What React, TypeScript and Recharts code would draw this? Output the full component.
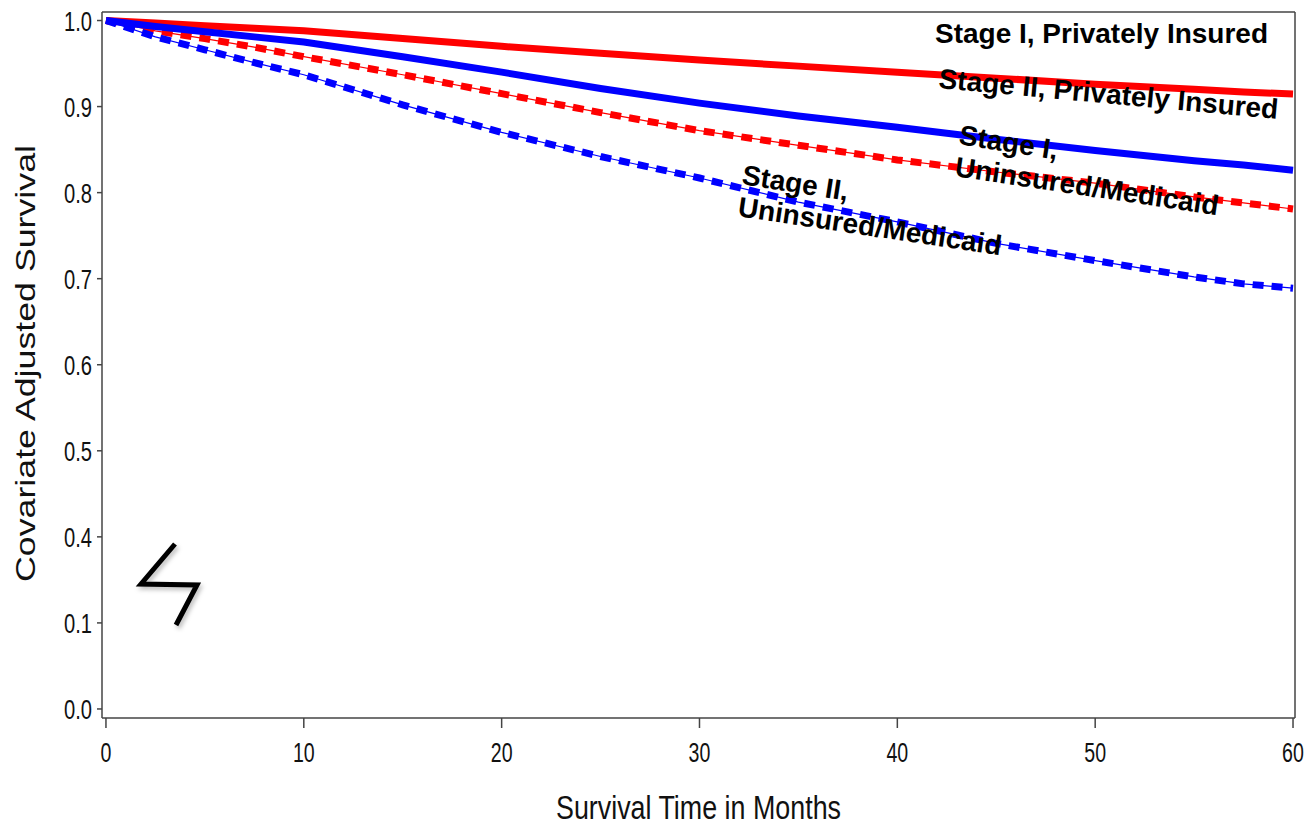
import React from "react";
import { LineChart, Line, XAxis, YAxis, ReferenceLine } from "recharts";

const months = [0, 2.5, 5, 7.5, 10, 15, 20, 25, 30, 35, 40, 45, 50, 55, 57.5, 60];
const stage1Private = [1, 0.997, 0.994, 0.991, 0.988, 0.979, 0.97, 0.962, 0.954, 0.947, 0.94, 0.933, 0.926, 0.92, 0.917, 0.9145];
const stage2Private = [1, 0.993, 0.987, 0.981, 0.975, 0.958, 0.94, 0.921, 0.904, 0.889, 0.876, 0.862, 0.849, 0.837, 0.832, 0.826];
const stage1Uninsured = [1, 0.988, 0.979, 0.969, 0.958, 0.937, 0.915, 0.893, 0.872, 0.855, 0.838, 0.824, 0.811, 0.795, 0.788, 0.781];
const stage2Uninsured = [1, 0.981, 0.966, 0.951, 0.937, 0.902, 0.87, 0.842, 0.817, 0.789, 0.766, 0.741, 0.721, 0.702, 0.694, 0.689];

// The y axis is broken: 0.0 and 0.1 sit directly below 0.4, one step apart each.
const yTicks = [0.2, 0.3, 0.4, 0.5, 0.6, 0.7, 0.8, 0.9, 1.0];
const yTickLabels = ["0.0", "0.1", "0.4", "0.5", "0.6", "0.7", "0.8", "0.9", "1.0"];
const xTicks = [0, 10, 20, 30, 40, 50, 60];

const rows = months.map((month, i) => ({
  month,
  s1p: stage1Private[i],
  s2p: stage2Private[i],
  s1u: stage1Uninsured[i],
  s2u: stage2Uninsured[i],
}));

const axisColor = "#444";
const sans = "'Liberation Sans', Arial, sans-serif";
const noteFont = { fontFamily: sans, fontSize: 28, fontWeight: 700, fill: "#000" };

const Note = ({ x, y, angle, children }: { x: number; y: number; angle: number; children: string }) => (
  <text x={x} y={y} transform={`rotate(${angle} ${x} ${y})`} {...noteFont}>
    {children}
  </text>
);

const XTick = ({ x, y, payload }: any) => (
  <text
    transform={`translate(${x} ${y + 26}) scale(0.7 1)`}
    textAnchor="middle"
    fontFamily={sans}
    fontSize={28}
    fill="#111"
  >
    {String(payload.value)}
  </text>
);

const YTick = ({ x, y, payload }: any) => (
  <text
    transform={`translate(${x - 2} ${y + 10}) scale(0.72 1)`}
    textAnchor="end"
    fontFamily={sans}
    fontSize={28}
    fill="#111"
  >
    {yTickLabels[yTicks.findIndex((t) => Math.abs(t - payload.value) < 1e-6)]}
  </text>
);

export default function App() {
  return (
    <div style={{ position: "absolute", left: 0, top: 0, width: 1305, height: 826, overflow: "hidden", background: "#fff" }}>
      <LineChart width={1305} height={826} data={rows} margin={{ top: 12, right: 10, bottom: 0, left: 0 }}>
        <XAxis
          dataKey="month"
          type="number"
          domain={[-0.2, 60.1]}
          ticks={xTicks}
          allowDataOverflow
          height={108}
          interval={0}
          tickLine={{ stroke: axisColor, strokeWidth: 1.5 }}
          axisLine={{ stroke: axisColor, strokeWidth: 1.5 }}
          tickSize={10}
          tickMargin={8}
          tick={<XTick />}
        />
        <YAxis
          type="number"
          domain={[0.1895, 1.0099]}
          ticks={yTicks}
          allowDataOverflow
          width={102}
          interval={0}
          tickLine={{ stroke: axisColor, strokeWidth: 1.5 }}
          axisLine={{ stroke: axisColor, strokeWidth: 1.5 }}
          tickSize={5}
          tickMargin={3}
          tick={<YTick />}
        />
        <ReferenceLine y={1.0099} stroke={axisColor} strokeWidth={1.5} />
        <ReferenceLine x={60.1} stroke={axisColor} strokeWidth={1.5} />

        <Line type="linear" dataKey="s1p" stroke="#ff0000" strokeWidth={7} dot={false} isAnimationActive={false} />
        <Line type="linear" dataKey="s1u" stroke="#ff0000" strokeWidth={1.2} dot={false} isAnimationActive={false} />
        <Line type="linear" dataKey="s1u" stroke="#ff0000" strokeWidth={7} strokeDasharray="11 8" dot={false} isAnimationActive={false} />
        <Line type="linear" dataKey="s2p" stroke="#0000ff" strokeWidth={7} dot={false} isAnimationActive={false} />
        <Line type="linear" dataKey="s2u" stroke="#0000ff" strokeWidth={1.2} dot={false} isAnimationActive={false} />
        <Line type="linear" dataKey="s2u" stroke="#0000ff" strokeWidth={7} strokeDasharray="11 8" dot={false} isAnimationActive={false} />
      </LineChart>

      <svg width={1305} height={826} style={{ position: "absolute", left: 0, top: 0, pointerEvents: "none" }}>
        <Note x={935} y={43} angle={0}>Stage I, Privately Insured</Note>
        <Note x={938} y={88} angle={5.2}>Stage II, Privately Insured</Note>
        <Note x={958} y={144} angle={9}>Stage I,</Note>
        <Note x={954} y={176} angle={8.5}>Uninsured/Medicaid</Note>
        <Note x={741} y={184} angle={9}>Stage II,</Note>
        <Note x={737} y={216} angle={8.5}>Uninsured/Medicaid</Note>

        <text
          x={35}
          y={582}
          transform="rotate(-90 35 582)"
          fontFamily={sans}
          fontSize={28}
          fill="#111"
          textLength={437}
          lengthAdjust="spacingAndGlyphs"
        >
          Covariate Adjusted Survival
        </text>
        <text
          x={556}
          y={819}
          fontFamily={sans}
          fontSize={33}
          fill="#111"
          textLength={285}
          lengthAdjust="spacingAndGlyphs"
        >
          Survival Time in Months
        </text>
        <polyline
          points="175,544 141,584 197,585 176,625"
          fill="none"
          stroke="#000"
          strokeWidth={5}
          style={{ filter: "drop-shadow(2px 3px 2px rgba(0,0,0,0.25))" }}
        />
      </svg>
    </div>
  );
}
